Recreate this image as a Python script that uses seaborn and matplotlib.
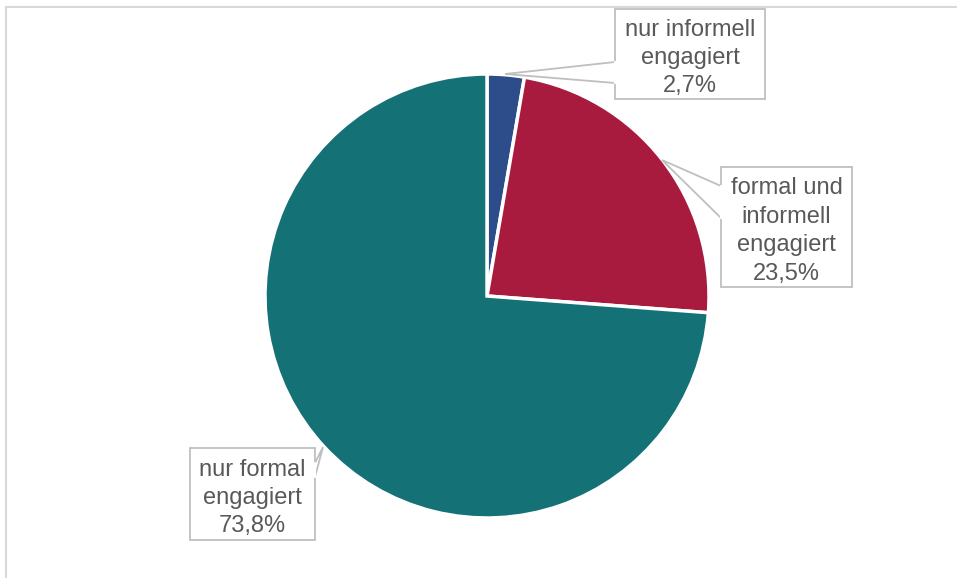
import matplotlib
matplotlib.use("Agg")
import matplotlib.pyplot as plt
from matplotlib.patches import Rectangle, Polygon
import seaborn as sns

# data
labels = ["nur informell\nengagiert", "formal und\ninformell\nengagiert", "nur formal\nengagiert"]
values = [2.7, 23.5, 73.8]
value_text = ["2,7%", "23,5%", "73,8%"]
colors = ["#2C4D8A", "#A91A3F", "#147176"]

sns.set_style("white")
plt.rcParams["font.family"] = ["Liberation Sans", "DejaVu Sans"]

W, H = 957, 578
fig = plt.figure(figsize=(W / 100, H / 100), dpi=100)
ax = fig.add_axes([0, 0, 1, 1])
ax.set_xlim(0, W)
ax.set_ylim(0, H)
ax.set_aspect("equal")
ax.axis("off")

# outer frame (only top and left visible)
ax.plot([6, W], [H - 7, H - 7], color="#D9D9D9", lw=1.5)
ax.plot([6, 6], [H - 7, 0], color="#D9D9D9", lw=1.5)

ax.pie(values, colors=colors, startangle=90, counterclock=False,
       center=(487, H - 296), radius=222, frame=True,
       wedgeprops=dict(edgecolor="white", linewidth=2.5))
ax.set_xlim(0, W)
ax.set_ylim(0, H)
ax.axis("off")

# callout boxes: (x0, y0, x1, y1) in pixels from top, pointer (base1, tip, base2)
boxes = [
    ((615, 9, 765, 99), [(615, 62), (505, 74), (615, 83)]),
    ((721, 167, 852, 287), [(721, 186), (662, 160), (721, 218)]),
    ((190, 448, 315, 540), [(315, 463), (323, 447), (315, 477)]),
]
border = "#BFBFBF"
for (lab, vt), ((x0, y0, x1, y1), ptr) in zip(zip(labels, value_text), boxes):
    ax.add_patch(Rectangle((x0, H - y1), x1 - x0, y1 - y0, facecolor="white",
                           edgecolor=border, lw=1.3, zorder=4))
    pts = [(x, H - y) for x, y in ptr]
    ax.add_patch(Polygon(pts, closed=False, facecolor="white",
                         edgecolor=border, lw=1.3, zorder=5))
    # hide box border under pointer base
    ax.plot([pts[0][0], pts[2][0]], [pts[0][1], pts[2][1]], color="white", lw=1.6, zorder=5)
    ax.text((x0 + x1) / 2, H - (y0 + y1) / 2 - 4, lab + "\n" + vt, ha="center", va="center",
            fontsize=17, color="#595959", linespacing=1.38, zorder=6)

fig.savefig("out.png", dpi=100)
